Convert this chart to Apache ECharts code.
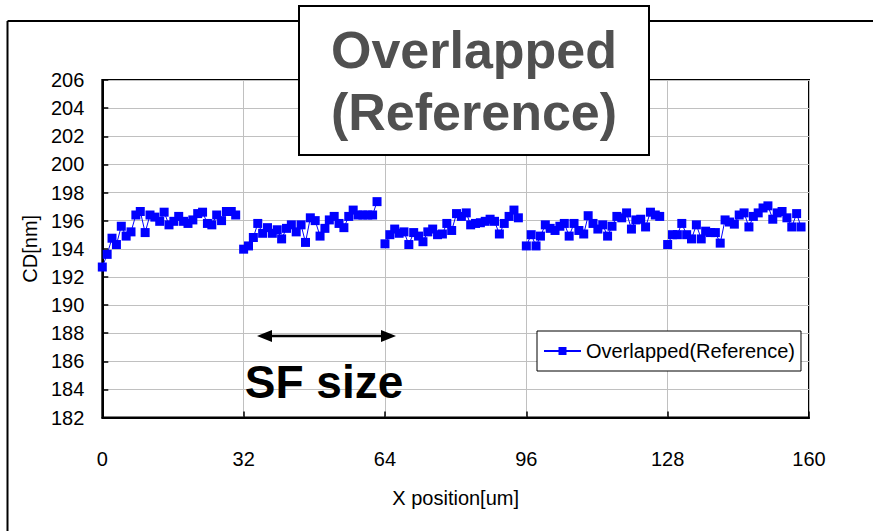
<!DOCTYPE html>
<html>
<head>
<meta charset="utf-8">
<script src="https://cdn.jsdelivr.net/npm/echarts@6/dist/echarts.min.js"></script>
<style>
html,body{margin:0;padding:0;background:#fff;}
#chart{width:873px;height:531px;}
</style>
</head>
<body>
<div id="chart"></div>
<script>
// ---- data ----
const seriesName = 'Overlapped(Reference)';
const segmentStarts = [0, 32, 64, 96, 128];
const xOffsets = [0, 1.1, 2.2, 3.2, 4.3, 5.4, 6.5, 7.6, 8.6, 9.7, 10.8, 11.9, 13.0, 14.0, 15.1, 16.2, 17.3, 18.4, 19.4, 20.5, 21.6, 22.7, 23.8, 24.8, 25.9, 27.0, 28.1, 29.2, 30.2];
const seg1 = [192.7, 193.6, 194.75, 194.3, 195.6, 194.9, 195.2, 196.4, 196.65, 195.15, 196.4, 196.25, 195.95, 196.6, 195.7, 195.95, 196.3, 195.95, 195.8, 196.05, 196.5, 196.6, 195.8, 195.7, 196.4, 196.0, 196.65, 196.65, 196.4];
const seg2 = [193.97, 194.2, 194.8, 195.8, 195.1, 195.5, 195.1, 195.35, 194.7, 195.45, 195.7, 195.2, 195.7, 194.45, 196.2, 196.0, 194.9, 195.45, 196.05, 196.3, 195.8, 195.5, 196.3, 196.75, 196.4, 196.4, 196.4, 196.4, 197.35];
const seg3 = [194.35, 195.0, 195.4, 195.1, 195.2, 194.3, 195.15, 194.9, 194.5, 195.2, 195.4, 195.0, 195.05, 195.8, 195.3, 196.5, 196.3, 196.55, 195.7, 195.8, 195.85, 195.95, 196.1, 195.95, 195.05, 195.8, 196.3, 196.75, 196.2];
const seg4 = [194.2, 195.0, 194.2, 194.9, 195.7, 195.45, 195.3, 195.6, 195.8, 194.9, 195.8, 195.3, 195.05, 196.35, 195.8, 195.4, 195.7, 194.9, 195.6, 196.3, 196.2, 196.55, 195.4, 196.05, 196.1, 195.55, 196.6, 196.4, 196.3];
const seg5 = [194.3, 195.0, 195.0, 195.8, 195.0, 194.7, 195.7, 194.7, 195.25, 195.15, 195.15, 194.4, 196.05, 195.9, 195.75, 196.4, 196.55, 195.55, 196.3, 196.55, 196.9, 197.05, 196.1, 196.55, 196.65, 196.2, 195.55, 196.5, 195.55];
const segments = [seg1, seg2, seg3, seg4, seg5];
const xTicks = [0, 32, 64, 96, 128, 160];
const yMin = 182, yMax = 206, yStep = 2;
const xAxisTitle = 'X position[um]';
const yAxisTitle = 'CD[nm]';
const titleLines = ['Overlapped', '(Reference)'];
const annotationText = 'SF size';

// ---- chart ----
const FONT = "'Liberation Sans', Arial, sans-serif";
const chart = echarts.init(document.getElementById('chart'), null, {renderer: 'svg'});

const series = segments.map((vals, si) => ({
  name: seriesName,
  type: 'line',
  data: vals.map((v, i) => [segmentStarts[si] + xOffsets[i], v]),
  symbol: 'rect',
  symbolSize: 9,
  lineStyle: {color: '#0000ff', width: 1},
  itemStyle: {color: '#0000ff'},
  animation: false,
  z: 3
}));

const option = {
  animation: false,
  backgroundColor: '#fff',
  grid: {left: 102.3, right: 64, top: 80, bottom: 113.5, show: true, borderColor: '#000', borderWidth: 2, backgroundColor: 'transparent'},
  xAxis: {
    type: 'value', min: xTicks[0], max: xTicks[xTicks.length - 1], interval: 32,
    name: xAxisTitle, nameLocation: 'middle', nameGap: 70,
    nameTextStyle: {fontFamily: FONT, fontSize: 20, color: '#000'},
    axisLine: {show: true, lineStyle: {color: '#000', width: 2}},
    axisTick: {show: true, inside: true, length: 6, lineStyle: {color: '#000', width: 1.5}},
    axisLabel: {margin: 31, fontFamily: FONT, fontSize: 20, color: '#000'},
    splitLine: {show: true, lineStyle: {color: '#c0c0c0', width: 1}}
  },
  yAxis: {
    type: 'value', min: yMin, max: yMax, interval: yStep,
    name: yAxisTitle, nameLocation: 'middle', nameGap: 50, nameRotate: 90,
    nameTextStyle: {fontFamily: FONT, fontSize: 20, color: '#000'},
    axisLine: {show: true, lineStyle: {color: '#000', width: 2}},
    axisTick: {show: true, inside: true, length: 6, lineStyle: {color: '#000', width: 1.5}},
    axisLabel: {margin: 18, fontFamily: FONT, fontSize: 20, color: '#000'},
    splitLine: {show: true, lineStyle: {color: '#c0c0c0', width: 1}}
  },
  legend: {
    data: [seriesName],
    left: 537, top: 331,
    orient: 'horizontal',
    padding: [10, 6, 10, 6],
    itemWidth: 37, itemHeight: 10,
    backgroundColor: '#fff', borderColor: '#000', borderWidth: 1,
    textStyle: {fontFamily: FONT, fontSize: 20, color: '#000'},
    selectedMode: false
  },
  series: series,
  graphic: [
    // outer chart frame
    {type: 'line', shape: {x1: 7.5, y1: 21, x2: 873, y2: 21}, style: {stroke: '#000', lineWidth: 2}, z: 1},
    {type: 'line', shape: {x1: 7.5, y1: 21, x2: 7.5, y2: 531}, style: {stroke: '#000', lineWidth: 2}, z: 1},
    // title box
    {type: 'rect', shape: {x: 299, y: 6, width: 350, height: 149}, style: {fill: '#fff', stroke: '#000', lineWidth: 2}, z: 10},
    {type: 'text', x: 474, y: 50, style: {text: titleLines[0], font: "bold 52px 'Liberation Sans', Arial, sans-serif", fill: '#505050', align: 'center', verticalAlign: 'middle'}, z: 11},
    {type: 'text', x: 474, y: 112, style: {text: titleLines[1], font: "bold 52px 'Liberation Sans', Arial, sans-serif", fill: '#505050', align: 'center', verticalAlign: 'middle'}, z: 11},
    // SF size arrow
    {type: 'line', shape: {x1: 268, y1: 336, x2: 384, y2: 336}, style: {stroke: '#000', lineWidth: 2.5}, z: 10},
    {type: 'polygon', shape: {points: [[257, 336], [272, 330], [272, 342]]}, style: {fill: '#000'}, z: 10},
    {type: 'polygon', shape: {points: [[396, 336], [381, 330], [381, 342]]}, style: {fill: '#000'}, z: 10},
    {type: 'text', x: 324, y: 382, style: {text: annotationText, font: "bold 46px 'Liberation Sans', Arial, sans-serif", fill: '#000', align: 'center', verticalAlign: 'middle'}, z: 10}
  ]
};
chart.setOption(option);
</script>
</body>
</html>
